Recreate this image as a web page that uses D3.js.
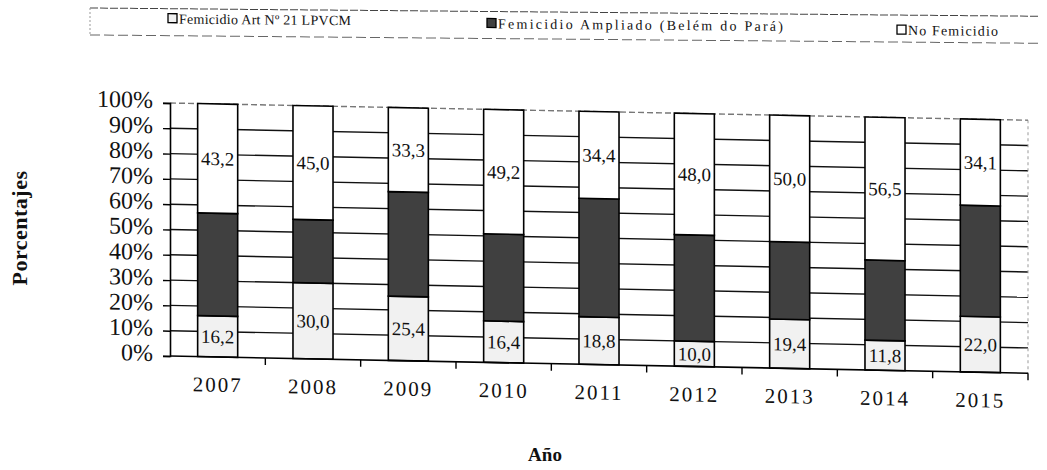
<!DOCTYPE html>
<html>
<head>
    <meta charset="utf-8" />
    <title>Femicidio por año</title>
    <style>
        body { margin: 0; background: #fff; }
        #chart { width: 1047px; height: 470px; }
        text { font-family: "Liberation Serif", "DejaVu Serif", serif; fill: #111; }
    </style>
</head>
<body>
    <div id="chart"></div>
    <script src="https://cdnjs.cloudflare.com/ajax/libs/d3/7.8.5/d3.min.js"></script>
    <script>
        // data (percent of cases per year)
        var years = ["2007", "2008", "2009", "2010", "2011", "2012", "2013", "2014", "2015"];
        var art21 = [16.2, 30.0, 25.4, 16.4, 18.8, 10.0, 19.4, 11.8, 22.0];
        var noFem = [43.2, 45.0, 33.3, 49.2, 34.4, 48.0, 50.0, 56.5, 34.1];
        var ampliado = [40.6, 25.0, 41.3, 34.4, 46.8, 42.0, 30.6, 31.7, 43.9];
        var seriesNames = ["Femicidio Art Nº 21 LPVCM", "Femicidio Ampliado (Belém do Pará)", "No Femicidio"];
        var yTicks = [0, 10, 20, 30, 40, 50, 60, 70, 80, 90, 100];
        var colors = ["#f1f1f1", "#404040", "#ffffff"];

        var width = 1047, height = 470;
        var plotLeft = 170, plotRight = 1028, plotTop = 103, plotBottom = 356;
        var skew = 1.15; // the scan is slightly tilted

        var rows = years.map(function (y, i) {
            return { year: y, a: art21[i], b: ampliado[i], c: noFem[i] };
        });
        var keys = ["a", "b", "c"];
        var series = d3.stack().keys(keys)(rows);

        var svg = d3.select("#chart").append("svg")
            .attr("width", width)
            .attr("height", height);

        var g = svg.append("g")
            .attr("transform", "translate(0," + (-plotLeft * Math.tan(skew * Math.PI / 180)) + ") skewY(" + skew + ")");

        var x = d3.scaleBand()
            .domain(years)
            .range([plotLeft, plotRight])
            .paddingInner(0.58)
            .paddingOuter(0.29);

        var y = d3.scaleLinear()
            .domain([0, 100])
            .range([plotBottom, plotTop]);

        // gridlines
        g.append("g")
            .selectAll("line")
            .data(yTicks.filter(function (d) { return d > 0; }))
            .enter().append("line")
            .attr("x1", plotLeft)
            .attr("x2", plotRight)
            .attr("y1", function (d) { return y(d); })
            .attr("y2", function (d) { return y(d); })
            .attr("stroke", function (d) { return d === 100 ? "#777" : "#111"; })
            .attr("stroke-dasharray", function (d) { return d === 100 ? "6,3" : null; })
            .attr("stroke-width", 1.4);

        // right border, faint
        g.append("line")
            .attr("x1", plotRight).attr("x2", plotRight)
            .attr("y1", plotTop).attr("y2", plotBottom)
            .attr("stroke", "#999")
            .attr("stroke-dasharray", "3,3");

        // bars
        g.append("g")
            .selectAll("g")
            .data(series)
            .enter().append("g")
            .attr("fill", function (d, i) { return colors[i]; })
            .selectAll("rect")
            .data(function (d) { return d; })
            .enter().append("rect")
            .attr("x", function (d) { return x(d.data.year); })
            .attr("y", function (d) { return y(d[1]); })
            .attr("width", x.bandwidth())
            .attr("height", function (d) { return y(d[0]) - y(d[1]); })
            .attr("stroke", "#000")
            .attr("stroke-width", 1.6);

        var fmt = function (v) { return d3.format(".1f")(v).replace(".", ","); };

        // labels for bottom and top segments
        [0, 2].forEach(function (k) {
            g.append("g")
                .selectAll("text")
                .data(series[k])
                .enter().append("text")
                .attr("x", function (d) { return x(d.data.year) + x.bandwidth() / 2; })
                .attr("y", function (d) { return (y(d[0]) + y(d[1])) / 2; })
                .attr("dy", "0.35em")
                .attr("text-anchor", "middle")
                .style("font-size", "19px")
                .text(function (d) { return fmt(d[1] - d[0]); });
        });

        // y axis
        var yAxis = g.append("g")
            .attr("transform", "translate(" + plotLeft + ",0)")
            .call(d3.axisLeft(y).tickValues(yTicks).tickSize(7).tickPadding(10)
                .tickFormat(function (d) { return d + "%"; }));
        yAxis.select(".domain").attr("stroke", "#000").attr("stroke-width", 1.6);
        yAxis.selectAll(".tick line").attr("stroke", "#000").attr("stroke-width", 1.4);
        yAxis.selectAll(".tick text")
            .attr("dy", "0.2em")
            .style("font-size", "24px")
            .style("font-family", "Liberation Serif, serif");

        // x axis: labels under bars, tick marks between bars
        var xAxis = g.append("g")
            .attr("transform", "translate(0," + plotBottom + ")")
            .call(d3.axisBottom(x).tickSize(0).tickPadding(20));
        xAxis.select(".domain").remove();
        xAxis.selectAll(".tick text")
            .style("font-size", "21px")
            .style("letter-spacing", "2px")
            .style("font-family", "Liberation Serif, serif");

        g.append("line")
            .attr("x1", plotLeft).attr("x2", plotRight)
            .attr("y1", plotBottom).attr("y2", plotBottom)
            .attr("stroke", "#000").attr("stroke-width", 1.6);

        var step = x.step();
        g.append("g")
            .selectAll("line")
            .data(years)
            .enter().append("line")
            .attr("x1", function (d) { return x(d) + x.bandwidth() + (step - x.bandwidth()) / 2; })
            .attr("x2", function (d) { return x(d) + x.bandwidth() + (step - x.bandwidth()) / 2; })
            .attr("y1", plotBottom)
            .attr("y2", plotBottom + 7)
            .attr("stroke", "#000")
            .attr("stroke-width", 1.4);

        // legend (tilted a little less than the plot)
        var legendPos = [168, 487, 897];
        var legendY = [18, 20, 23];
        var legendWidth = [172, 285, 90];
        var lg = svg.append("g")
            .attr("transform", "translate(0," + (-90 * Math.tan(0.5 * Math.PI / 180)) + ") skewY(0.5)");
        lg.append("line")
            .attr("x1", 90).attr("x2", 1040)
            .attr("y1", 8).attr("y2", 8)
            .attr("stroke", "#444").attr("stroke-dasharray", "8,2");
        lg.append("line")
            .attr("x1", 90).attr("x2", 1040)
            .attr("y1", 35).attr("y2", 35)
            .attr("stroke", "#666").attr("stroke-dasharray", "10,4");
        lg.append("line")
            .attr("x1", 90).attr("x2", 90)
            .attr("y1", 8).attr("y2", 35)
            .attr("stroke", "#999").attr("stroke-dasharray", "2,2");

        var items = lg.selectAll("g.item")
            .data(seriesNames)
            .enter().append("g")
            .attr("class", "item")
            .attr("transform", function (d, i) { return "translate(" + legendPos[i] + "," + legendY[i] + ")"; });
        items.append("rect")
            .attr("x", 0).attr("y", -5)
            .attr("width", 9).attr("height", 9)
            .attr("fill", function (d, i) { return colors[i]; })
            .attr("stroke", "#000")
            .attr("stroke-width", 1.3);
        items.append("text")
            .attr("x", 11)
            .attr("dy", "0.35em")
            .attr("textLength", function (d, i) { return legendWidth[i]; })
            .attr("lengthAdjust", "spacing")
            .style("font-size", "14px")
            .text(function (d) { return d; });

        // axis titles
        svg.append("text")
            .attr("transform", "translate(27,228) rotate(-90)")
            .attr("text-anchor", "middle")
            .style("font-size", "22px")
            .style("font-weight", "bold")
            .style("letter-spacing", "0.5px")
            .text("Porcentajes");

        svg.append("text")
            .attr("x", 545)
            .attr("y", 461)
            .attr("text-anchor", "middle")
            .style("font-size", "19px")
            .style("font-weight", "bold")
            .text("Año");
    </script>
</body>
</html>
